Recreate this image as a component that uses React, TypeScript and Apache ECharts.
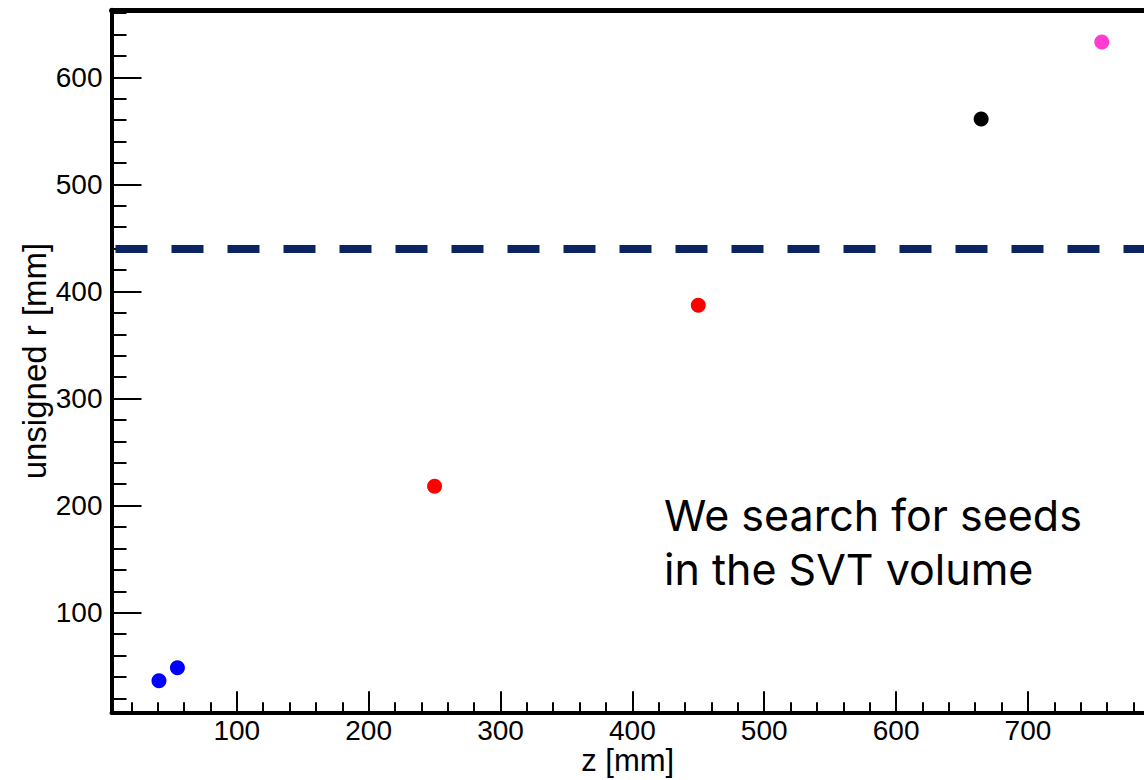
import { useEffect, useRef } from "react";
import * as echarts from "echarts";

// Seed hit positions (z, unsigned r) in mm, grouped by marker colour
const blueSeeds: number[][] = [
  [41, 36.5],
  [55, 48.5],
];
const redSeeds: number[][] = [
  [250, 218],
  [450, 387],
];
const blackSeeds: number[][] = [[664.5, 561]];
const pinkSeeds: number[][] = [[756, 633]];

// Outer radius of the SVT volume
const svtBoundaryR = 440;

// Axis ranges
const zRange = [5, 788];
const rRange = [7, 663];

// Tick positions
const zMajorTicks = [100, 200, 300, 400, 500, 600, 700];
const zMinorTicks = [
  20, 40, 60, 80, 120, 140, 160, 180, 220, 240, 260, 280, 320, 340, 360, 380,
  420, 440, 460, 480, 520, 540, 560, 580, 620, 640, 660, 680, 720, 740, 760, 780,
];
const rMajorTicks = [100, 200, 300, 400, 500, 600];
const rMinorTicks = [
  20, 40, 60, 80, 120, 140, 160, 180, 220, 240, 260, 280, 320, 340, 360, 380,
  420, 440, 460, 480, 520, 540, 560, 580, 620, 640, 660,
];

const annotationLines = ["We search for seeds", "in the SVT volume"];

const axisFont = "'Liberation Sans', Arial, sans-serif";

export default function App() {
  const ref = useRef<HTMLDivElement>(null);

  useEffect(() => {
    if (!ref.current) return;
    const chart = echarts.init(ref.current, undefined, { renderer: "svg" });

    const frame = { color: "#000", width: 4 };
    const tickStyle = { color: "#000", width: 2 };

    const seedSeries = (name: string, data: number[][], color: string) => ({
      name,
      type: "scatter",
      xAxisIndex: 0,
      yAxisIndex: 0,
      data,
      symbol: "circle",
      symbolSize: 15,
      itemStyle: { color, opacity: 1 },
      z: 5,
    });

    chart.setOption({
      animation: false,
      backgroundColor: "#fff",
      grid: {
        left: 111.5,
        top: 9.8,
        right: 0,
        bottom: 67.7,
        containLabel: false,
        outerBoundsMode: "none",
      },
      xAxis: [
        {
          type: "value",
          position: "bottom",
          min: zRange[0],
          max: zRange[1],
          axisLine: { show: true, onZero: false, lineStyle: frame },
          axisTick: { show: true, inside: true, length: 21, customValues: zMajorTicks, lineStyle: tickStyle },
          axisLabel: {
            show: true,
            customValues: zMajorTicks,
            fontSize: 28,
            fontFamily: axisFont,
            color: "#000",
            margin: 4,
          },
          splitLine: { show: false },
          name: "z [mm]",
          nameLocation: "middle",
          nameGap: 33,
          nameMoveOverlap: false,
          nameTextStyle: { fontSize: 31, fontFamily: axisFont, color: "#000" },
        },
        {
          type: "value",
          position: "bottom",
          min: zRange[0],
          max: zRange[1],
          axisLine: { show: false, onZero: false },
          axisTick: { show: true, inside: true, length: 10, customValues: zMinorTicks, lineStyle: tickStyle },
          axisLabel: { show: false },
          splitLine: { show: false },
        },
        {
          type: "value",
          position: "top",
          min: zRange[0],
          max: zRange[1],
          axisLine: { show: true, onZero: false, lineStyle: { color: "#000", width: 5 } },
          axisTick: { show: false },
          axisLabel: { show: false },
          splitLine: { show: false },
        },
      ],
      yAxis: [
        {
          type: "value",
          position: "left",
          min: rRange[0],
          max: rRange[1],
          axisLine: { show: true, onZero: false, lineStyle: frame },
          axisTick: { show: true, inside: true, length: 30, customValues: rMajorTicks, lineStyle: tickStyle },
          axisLabel: {
            show: true,
            customValues: rMajorTicks,
            fontSize: 28,
            fontFamily: axisFont,
            color: "#000",
            margin: 9,
          },
          splitLine: { show: false },
          name: "unsigned r [mm]",
          nameLocation: "middle",
          nameGap: 61,
          nameMoveOverlap: false,
          nameTextStyle: { fontSize: 33, fontFamily: axisFont, color: "#000" },
        },
        {
          type: "value",
          position: "left",
          min: rRange[0],
          max: rRange[1],
          axisLine: { show: false, onZero: false },
          axisTick: { show: true, inside: true, length: 15, customValues: rMinorTicks, lineStyle: tickStyle },
          axisLabel: { show: false },
          splitLine: { show: false },
        },
      ],
      series: [
        {
          ...seedSeries("blue", blueSeeds, "#0000ff"),
          markLine: {
            silent: true,
            symbol: "none",
            label: { show: false },
            lineStyle: { color: "#0b2462", width: 8, type: [32, 24], dashOffset: 52, opacity: 1 },
            data: [{ yAxis: svtBoundaryR }],
          },
        },
        seedSeries("red", redSeeds, "#ff0000"),
        seedSeries("black", blackSeeds, "#000000"),
        seedSeries("pink", pinkSeeds, "#ff3ccf"),
      ],
      graphic: annotationLines.map((line, i) => ({
        type: "text",
        x: 664,
        y: 515 + i * 54,
        silent: true,
        style: {
          text: line,
          fontSize: 43,
          fontFamily: "Inter, 'Open Sans', sans-serif",
          fill: "#000",
          align: "left",
          verticalAlign: "middle",
        },
      })),
    });

    return () => chart.dispose();
  }, []);

  return (
    <div
      style={{
        position: "absolute",
        left: 0,
        top: 0,
        width: 1144,
        height: 780,
        overflow: "hidden",
        background: "#fff",
      }}
    >
      <div ref={ref} style={{ width: 1144, height: 780 }} />
    </div>
  );
}
